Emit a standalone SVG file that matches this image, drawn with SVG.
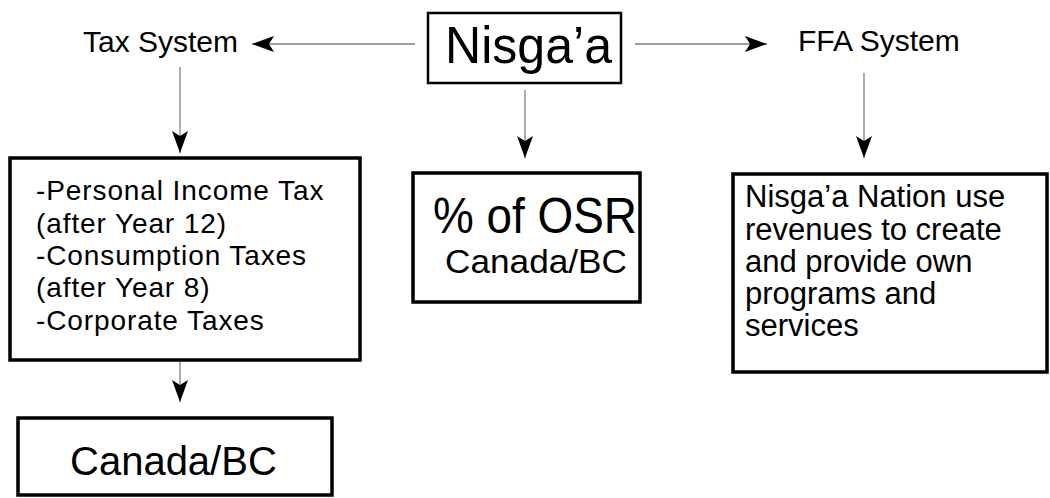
<svg xmlns="http://www.w3.org/2000/svg" width="1050" height="498" viewBox="0 0 1050 498">
<style>
  .box { fill: #fff; stroke: #000; stroke-width: 3.5; }
  .t { font-family: "Liberation Sans", Arial, sans-serif; fill: #000; }
  .conn { stroke: #808080; stroke-width: 1.3; fill: none; marker-end: url(#ah); }
</style>
<defs>
  <marker id="ah" markerUnits="userSpaceOnUse" markerWidth="22" markerHeight="16" viewBox="0 0 22 16" refX="22" refY="8" orient="auto">
    <path d="M0,0 L22,8 L0,16 L5,8 Z" fill="#000"/>
  </marker>
</defs>
<rect width="1050" height="498" fill="#fff"/>
<g id="connectors">
  <line class="conn" x1="415" y1="44" x2="252" y2="44"/>
  <line class="conn" x1="635" y1="44" x2="767" y2="44"/>
  <line class="conn" x1="180" y1="67" x2="180" y2="153"/>
  <line class="conn" x1="525" y1="90" x2="525" y2="158"/>
  <line class="conn" x1="864" y1="73" x2="864" y2="158"/>
  <line class="conn" x1="180" y1="362" x2="180" y2="402"/>
</g>
<g id="nisgaa">
  <rect class="box" x="428" y="13" width="193" height="70" style="stroke-width:2.5"/>
  <text class="t" x="445" y="63" font-size="52" textLength="167" lengthAdjust="spacingAndGlyphs">Nisga’a</text>
</g>
<g id="tax-system">
  <text class="t" x="83" y="52" font-size="30">Tax System</text>
</g>
<g id="ffa-system">
  <text class="t" x="798" y="51" font-size="30">FFA System</text>
</g>
<g id="tax-list">
  <rect class="box" x="10" y="158" width="350" height="202"/>
  <text class="t" font-size="28" letter-spacing="0.9">
    <tspan x="36" y="200">-Personal Income Tax</tspan>
    <tspan x="36" y="233">(after Year 12)</tspan>
    <tspan x="36" y="265">-Consumption Taxes</tspan>
    <tspan x="36" y="297">(after Year 8)</tspan>
    <tspan x="36" y="330">-Corporate Taxes</tspan>
  </text>
</g>
<g id="canada-bc">
  <rect class="box" x="18" y="418" width="314" height="77"/>
  <text class="t" x="70" y="475" font-size="40">Canada/BC</text>
</g>
<g id="osr">
  <rect class="box" x="413" y="173" width="227" height="129"/>
  <text class="t" x="433" y="233" font-size="50" textLength="204" lengthAdjust="spacingAndGlyphs">% of OSR</text>
  <text class="t" x="445" y="273" font-size="33" textLength="182" lengthAdjust="spacingAndGlyphs">Canada/BC</text>
</g>
<g id="ffa-box">
  <rect class="box" x="733" y="174" width="314" height="198"/>
  <text class="t" font-size="31">
    <tspan x="745" y="207">Nisga’a Nation use</tspan>
    <tspan x="745" y="240">revenues to create</tspan>
    <tspan x="745" y="272">and provide own</tspan>
    <tspan x="745" y="304">programs and</tspan>
    <tspan x="745" y="336">services</tspan>
  </text>
</g>
</svg>
